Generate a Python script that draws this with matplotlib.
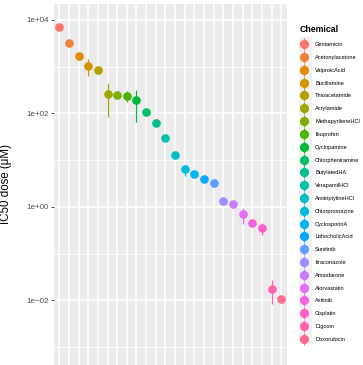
import numpy as np
import matplotlib
matplotlib.use('Agg')
import matplotlib.pyplot as plt
from matplotlib.patches import Rectangle
from matplotlib.lines import Line2D

plt.rcParams['font.family'] = ['Liberation Sans', 'DejaVu Sans']

chemicals = ['Gentamicin', 'Acetonylacetone', 'ValproicAcid', 'Bucillamine', 'Thioacetamide',
             'Acrylamide', 'MethapyrileneHCl', 'Ibuprofen', 'Cyclopamine', 'Chlorpheniramine',
             'ButylatedHA', 'VerapamilHCl', 'AmitriptylineHCl', 'Chlorpromazine', 'CyclosporinA',
             'LithocholicAcid', 'Sunitinib', 'Itraconazole', 'Amiodarone', 'Atorvastatin',
             'Axitinib', 'Cisplatin', 'Digoxin', 'Doxorubicin']
ic50 = [7200, 3200, 1670, 1050, 850, 263, 245, 240, 195, 107, 63, 30, 12.8, 6.4, 5.1,
        4.0, 3.2, 1.34, 1.16, 0.72, 0.45, 0.35, 0.018, 0.0107]
ic50_low = [6300, 2950, 1670, 630, 850, 83, 245, 178, 66, 107, 63, 30, 12.8, 4.5, 5.1,
            4.0, 3.2, 1.34, 1.16, 0.44, 0.45, 0.25, 0.0083, 0.0107]
ic50_high = [7600, 3400, 1670, 1450, 850, 447, 245, 309, 316, 107, 63, 30, 12.8, 8.1, 5.1,
             4.0, 3.2, 1.34, 1.16, 0.97, 0.45, 0.45, 0.0275, 0.0107]
y_ticks = [1e-2, 1e0, 1e2, 1e4]
y_tick_labels = ['1e\u221202', '1e+00', '1e+02', '1e+04']


def hue_pal(n, l=65, c=100):
    # ggplot2 default discrete palette, HCL (polar Luv) -> sRGB
    hues = np.linspace(15, 375, n + 1)[:n]
    xn, yn, zn = 95.047, 100.0, 108.883
    un = 4 * xn / (xn + 15 * yn + 3 * zn)
    vn = 9 * yn / (xn + 15 * yn + 3 * zn)
    m = np.array([[3.2404542, -1.5371385, -0.4985314],
                  [-0.9692660, 1.8760108, 0.0415560],
                  [0.0556434, -0.2040259, 1.0572252]])
    out = []
    for h in hues:
        u = c * np.cos(np.radians(h))
        v = c * np.sin(np.radians(h))
        Y = yn * ((l + 16) / 116) ** 3
        up = u / (13 * l) + un
        vp = v / (13 * l) + vn
        X = 9 * Y * up / (4 * vp)
        Z = Y * (12 - 3 * up - 20 * vp) / (4 * vp)
        rgb = m @ (np.array([X, Y, Z]) / 100)
        rgb = np.where(rgb > 0.0031308, 1.055 * np.abs(rgb) ** (1 / 2.4) - 0.055, 12.92 * rgb)
        out.append(tuple(np.clip(rgb, 0, 1)))
    return out


colors = hue_pal(len(chemicals))

fig = plt.figure(figsize=(3.63, 3.65), dpi=100)
ax = fig.add_axes([53.5 / 363, 0, (287 - 53.5) / 363, 1 - 4 / 365])
ax.set_facecolor('#EBEBEB')

x = np.arange(1, len(chemicals) + 1)
handles = []
for i, name in enumerate(chemicals):
    err = [[ic50[i] - ic50_low[i]], [ic50_high[i] - ic50[i]]]
    ax.errorbar([x[i]], [ic50[i]], yerr=err, fmt='o', color=colors[i], ms=5.2,
                elinewidth=0.9, capsize=0, zorder=3)
    # pointrange-style key: vertical line with a dot on it
    bar = Line2D([], [], ls='none', marker='|', ms=9, mew=0.9, color=colors[i])
    dot = Line2D([], [], ls='none', marker='o', ms=5.6, color=colors[i])
    handles.append((bar, dot))

ax.set_yscale('log')
ax.set_ylim(10 ** -3.38, 10 ** 4.342)
ax.set_xlim(0.4, len(chemicals) + 0.6)

ax.set_yticks(y_ticks)
ax.set_yticklabels(y_tick_labels)
ax.yaxis.set_minor_locator(matplotlib.ticker.FixedLocator([1e-3, 1e-1, 1e1, 1e3]))
ax.yaxis.set_minor_formatter(matplotlib.ticker.NullFormatter())
ax.set_xticks(x)
ax.set_xticklabels([])

ax.grid(True, which='major', color='white', lw=1.1)
ax.grid(True, which='minor', axis='y', color='white', lw=0.55)
ax.set_axisbelow(True)
for s in ax.spines.values():
    s.set_visible(False)
ax.tick_params(axis='y', which='major', length=2, width=0.6, color='#333333',
               labelsize=5.8, labelcolor='#4D4D4D', pad=1.5)
ax.tick_params(axis='y', which='minor', length=0)
ax.tick_params(axis='x', length=0)

fig.text(6 / 363, 1 - 184.5 / 365, 'IC50 dose (\u03bcM)', rotation=90,
         ha='center', va='center', fontsize=8.3)

# legend key strip
fig.patches.append(Rectangle((299 / 363, 1 - 343 / 365), 12.7 / 363, 306 / 365,
                             transform=fig.transFigure, facecolor='#F2F2F2',
                             edgecolor='none', zorder=0))
leg = fig.legend(handles=handles, labels=chemicals, loc='upper left',
                 bbox_to_anchor=(295.5 / 363, 1 - 21.5 / 365), frameon=False,
                 fontsize=4.1, title='Chemical', title_fontsize=6.3,
                 handlelength=1.5, handletextpad=1.25, labelspacing=1.37,
                 borderpad=0.2, alignment='left')
leg.get_title().set_fontweight('bold')

fig.savefig('out.png', dpi=100)
